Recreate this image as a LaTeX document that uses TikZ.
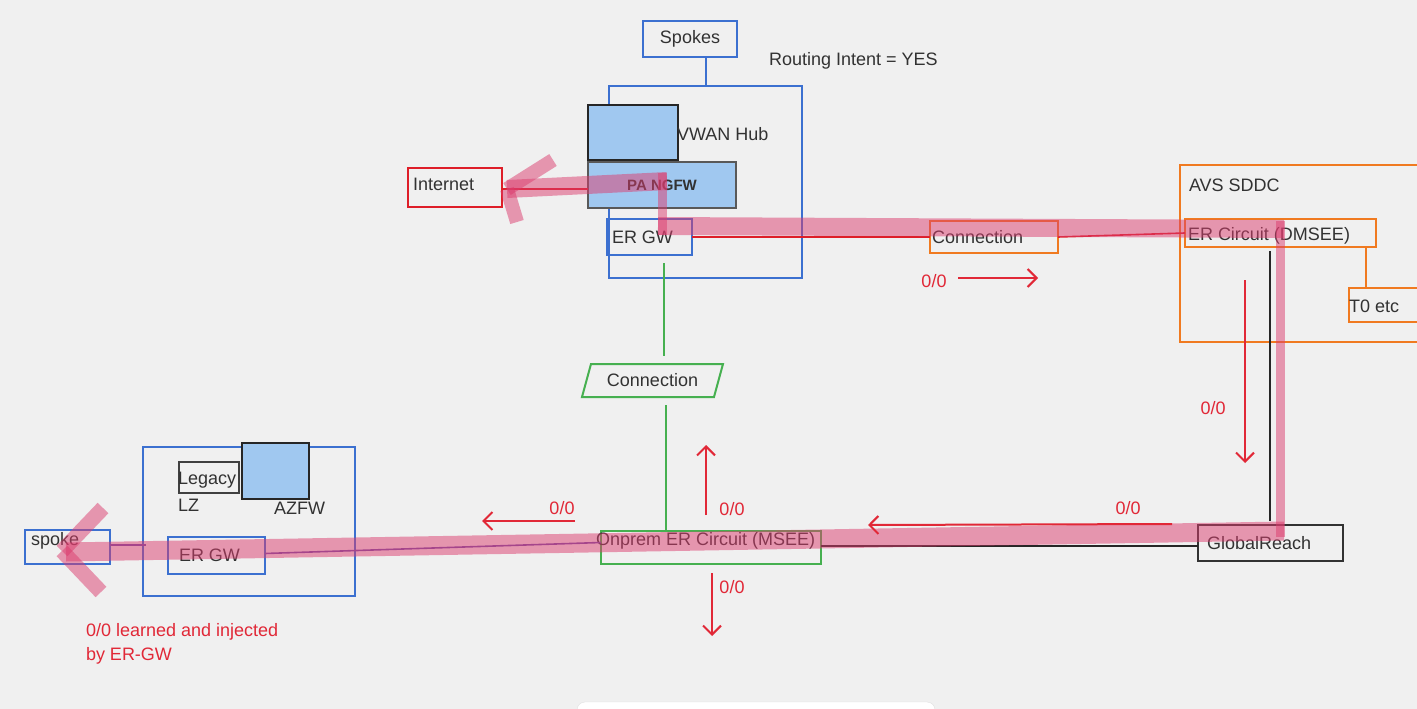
\documentclass[tikz,border=0pt]{standalone}
\usepackage{fontspec}
\setmainfont{Liberation Sans}
\usetikzlibrary{arrows.meta,calc}
\definecolor{bg}{RGB}{240,240,240}
\definecolor{hubblue}{RGB}{60,112,208}
\definecolor{fillblue}{RGB}{160,200,240}
\definecolor{avsorange}{RGB}{240,122,32}
\definecolor{netred}{RGB}{222,30,40}
\definecolor{lblred}{RGB}{225,40,55}
\definecolor{pinkc}{RGB}{220,60,110}
\definecolor{grn}{RGB}{70,176,80}
\definecolor{ink}{RGB}{50,50,50}
\definecolor{purp}{RGB}{110,80,170}
\begin{document}
\begin{tikzpicture}[x=1pt,y=-1pt,
  every node/.style={font=\fontsize{18}{21}\selectfont, text=ink, inner sep=0pt, outer sep=0pt},
  txt/.style={anchor=west},
  rtxt/.style={text=lblred},
  bbox/.style={draw=hubblue, line width=2pt},
  obox/.style={draw=avsorange, line width=2pt},
  kbox/.style={draw=ink, line width=2pt},
  gbox/.style={draw=grn, line width=2pt},
  iconbox/.style={fill=fillblue, draw=black!85, line width=2.6pt},
  fwbox/.style={fill=fillblue, draw=black!65, line width=1.5pt},
  bline/.style={draw=hubblue, line width=2pt},
  oline/.style={draw=avsorange, line width=2pt},
  kline/.style={draw=black!85, line width=2pt},
  gline/.style={draw=grn, line width=2pt},
  redline/.style={draw=netred, line width=1.6pt},
  pline/.style={draw=purp, line width=1.6pt},
  rarrow/.style={draw=lblred, line width=2pt, -{Straight Barb[length=9pt, width=18pt, line width=2pt]}},
  band/.style={draw=pinkc, opacity=0.5, line width=18pt, line cap=butt},
]
\fill[bg] (0,0) rectangle (1417,709);
\useasboundingbox (0,0) rectangle (1417,709);
\clip (0,0) rectangle (1417,709);
\fill[white, draw=black!12, rounded corners=8pt] (577,702) rectangle (935,740);

% ---------- VWAN hub ----------
\node[bbox, minimum width=94, minimum height=36] (spokes) at (690,39) {Spokes};
\node[txt] (ri) at (769,61) {Routing Intent = YES};
\node[bbox, minimum width=193, minimum height=192] (hub) at (705.5,182) {};
\draw[bline] (hub.north) -- (hub.north |- spokes.south);
\node[iconbox, minimum width=90, minimum height=55] (vwan) at (633,132.5) {};
\node[txt] (vwanlbl) at (677,134) {VWAN Hub};
\node[fwbox, minimum width=148, minimum height=46, font=\fontsize{15}{18}\selectfont\bfseries] (pa) at (662,185) {PA NGFW};
\node[bbox, minimum width=85, minimum height=36] (ergw) at (649.5,237) {};
\node[txt] (ergwlbl) at (612,237) {ER GW};

% ---------- Internet ----------
\node[draw=netred, line width=2.5pt, minimum width=94, minimum height=39] (inet) at (455,187.5) {};
\node[txt] (inetlbl) at (413,184) {Internet};
\coordinate (yint) at (0,189);
\draw[redline] (inet.east |- yint) -- (pa.west |- yint);

% ---------- AVS ----------
\node[obox, minimum width=128, minimum height=32] (conn1) at (994,237) {};
\node[txt] (conn1lbl) at (932,237) {Connection};
\node[obox, minimum width=260, minimum height=177, anchor=north west] (avs) at (1180,165) {};
\node[txt] (avslbl) at (1189,185) {AVS SDDC};
\node[obox, minimum width=191, minimum height=28] (erc) at (1280.5,233) {};
\node[txt] (erclbl) at (1188,236) {ER Circuit (DMSEE)};
\node[obox, minimum width=80, minimum height=34, anchor=north west] (t0) at (1349,288) {};
\node[txt] (t0lbl) at (1349,306) {T0 etc};
\coordinate (tx) at (1366,0);
\draw[oline] (tx |- erc.south) -- (tx |- t0.north);
\draw[redline] (ergw.east) -- (conn1.west);
\draw[redline] (conn1.east) -- (erc.west);

% ---------- GlobalReach ----------
\node[kbox, minimum width=145, minimum height=36] (gr) at (1270.5,543) {};
\node[txt] (grlbl) at (1207,543) {GlobalReach};
\coordinate (bx) at (1270,0);
\draw[kline] ($(bx |- erc.south)+(0,4)$) -- ($(bx |- gr.north)+(0,-4)$);

% ---------- green connection ----------
\node[minimum width=132, minimum height=33] (conn2) at (652.5,380.5) {Connection};
\draw[gline] ($(conn2.north west)+(4.5,0)$) -- ($(conn2.north east)+(4.5,0)$)
  -- ($(conn2.south east)+(-4.5,0)$) -- ($(conn2.south west)+(-4.5,0)$) -- cycle;
\node[gbox, minimum width=220, minimum height=33] (onprem) at (711,547.5) {};
\node[txt] (onpremlbl) at (596,541) {Onprem ER Circuit (MSEE)};
\coordinate (gx) at (664,0);
\coordinate (gx2) at (666,0);
\draw[gline] ($(gx |- ergw.south)+(0,8)$) -- ($(gx |- conn2.north)+(0,-8)$);
\draw[gline] ($(gx2 |- conn2.south)+(0,8)$) -- (gx2 |- onprem.north);
\coordinate (ky) at (0,546);
\draw[kline] (onprem.east |- ky) -- (gr.west |- ky);

% ---------- left hub ----------
\node[bbox, minimum width=212, minimum height=149] (lhub) at (249,521.5) {};
\node[draw=black!75, line width=2pt, minimum width=60, minimum height=31] (legacy) at (209,477.5) {};
\node[txt] (legacylbl) at (178,480) {Legacy};
\node[txt] (lzlbl) at (178,505) {LZ};
\node[iconbox, minimum width=67, minimum height=56] (azfw) at (275.5,471) {};
\node[txt] (azfwlbl) at (274,508) {AZFW};
\node[bbox, minimum width=97, minimum height=37] (ergw2) at (216.5,555.5) {};
\node[txt] (ergw2lbl) at (179,555) {ER GW};
\node[bbox, minimum width=85, minimum height=34] (spoke) at (67.5,547) {};
\node[txt] (spokelbl) at (31,541) {spoke};
\coordinate (pend) at (146,545);
\draw[pline] (spoke.east |- pend) -- (pend);
\draw[pline] ($(ergw2.east)+(0,-2)$) -- ($(onprem.west)+(0,-5)$);

% ---------- highlighted path ----------
\coordinate (h1) at (1284,229);
\coordinate (h2) at (658,226);
\coordinate (h3) at (662.5,235);
\coordinate (h4) at (662.5,173);
\coordinate (h5) at (667,181);
\coordinate (h6) at (507,189);
\coordinate (h7) at (553,160);
\coordinate (h8) at (517,222);
\coordinate (v1) at (1280,221);
\coordinate (v2) at (1280,537);
\coordinate (b1) at (1284,531);
\coordinate (b2) at (66,552);
\coordinate (s0) at (62,551);
\coordinate (s1) at (103,508);
\coordinate (s2) at (101,592);
\draw[band] (h1) -- (h2);
\draw[band, line width=9pt] (h3) -- (h4);
\draw[band] (h5) -- (h6);
\draw[band, line width=14pt] (h6) -- (h7);
\draw[band, line width=14pt] (h6) -- (h8);
\draw[band, line width=9pt] (v1) -- (v2);
\draw[band, line width=19pt] (b1) -- (b2);
\draw[band, line width=15pt] (s0) -- (s1);
\draw[band, line width=15pt] (s0) -- (s2);

% ---------- 0/0 advertisements ----------
\coordinate (a1s) at (958,278); \coordinate (a1e) at (1038,278);
\draw[rarrow] (a1s) -- (a1e);
\node[rtxt] (l1) at (934,281) {0/0};
\coordinate (a2s) at (1245,280); \coordinate (a2e) at (1245,463);
\draw[rarrow] (a2s) -- (a2e);
\node[rtxt] (l2) at (1213,408) {0/0};
\coordinate (a3s) at (1172,524); \coordinate (a3e) at (868,525);
\draw[rarrow] (a3s) -- (a3e);
\node[rtxt] (l3) at (1128,508) {0/0};
\coordinate (a4s) at (706,515); \coordinate (a4e) at (706,445);
\draw[rarrow] (a4s) -- (a4e);
\node[rtxt] (l4) at (732,509) {0/0};
\coordinate (a5s) at (712,573); \coordinate (a5e) at (712,636);
\draw[rarrow] (a5s) -- (a5e);
\node[rtxt] (l5) at (732,587) {0/0};
\coordinate (a6s) at (575,521); \coordinate (a6e) at (482,521);
\draw[rarrow] (a6s) -- (a6e);
\node[rtxt] (l6) at (562,508) {0/0};
\node[rtxt, txt] (note1) at (86,632) {0/0 learned and injected};
\node[rtxt, txt] (note2) at (86,656) {by ER-GW};
\end{tikzpicture}
\end{document}
